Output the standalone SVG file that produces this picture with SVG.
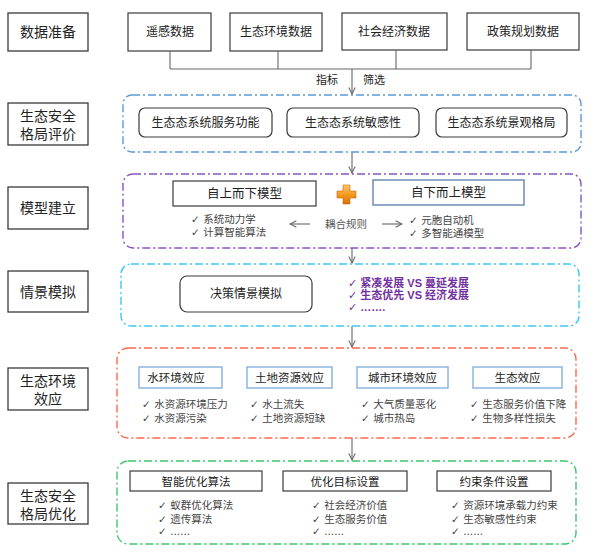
<svg xmlns="http://www.w3.org/2000/svg" width="594" height="556" viewBox="0 0 594 556">
<style>
.lbl{fill:#fff;stroke:#3a3a3a;stroke-width:1.3}
.lt{font-family:"Liberation Sans","Noto Sans CJK SC",sans-serif;font-size:14px;fill:#222;text-anchor:middle}
.bx{fill:#fff;stroke:#3a3a3a;stroke-width:1.2}
.bt{font-family:"Liberation Sans","Noto Sans CJK SC",sans-serif;font-size:12px;fill:#222;text-anchor:middle}
.hb{fill:#fff;stroke:#8db6e0;stroke-width:1.5}
.ck{font-family:"DejaVu Sans","Noto Sans CJK SC",sans-serif;font-size:10.5px;fill:#444}
.ctr{fill:none;stroke-width:1.4;stroke-dasharray:8 3 2 3}
.cn{fill:none;stroke:#666;stroke-width:1.1}
.pp{font-family:"Liberation Sans","Noto Sans CJK SC",sans-serif;font-size:11px;font-weight:bold;fill:#7030a0}
</style>
<defs>
<marker id="ah" viewBox="0 0 10 10" refX="9" refY="5" markerWidth="8" markerHeight="8" orient="auto" markerUnits="userSpaceOnUse">
<path d="M1,1 L9,5 L1,9" fill="none" stroke="#666" stroke-width="1.3"/>
</marker>
<linearGradient id="og" x1="0" y1="0" x2="0" y2="1">
<stop offset="0" stop-color="#ffc56a"/>
<stop offset="0.5" stop-color="#f59a1e"/>
<stop offset="1" stop-color="#d8700a"/>
</linearGradient>
</defs>
<rect width="594" height="556" fill="#fff"/>

<!-- left labels -->
<g id="label-1"><rect class="lbl" x="8" y="13" width="80" height="38"/><text class="lt" x="48" y="37">数据准备</text></g>
<g id="label-2"><rect class="lbl" x="8" y="103" width="80" height="42"/><text class="lt" x="48" y="121">生态安全</text><text class="lt" x="48" y="139">格局评价</text></g>
<g id="label-3"><rect class="lbl" x="8" y="187" width="80" height="42"/><text class="lt" x="48" y="213">模型建立</text></g>
<g id="label-4"><rect class="lbl" x="8" y="271" width="80" height="41"/><text class="lt" x="48" y="297">情景模拟</text></g>
<g id="label-5"><rect class="lbl" x="8" y="368" width="80" height="42"/><text class="lt" x="48" y="386">生态环境</text><text class="lt" x="48" y="404">效应</text></g>
<g id="label-6"><rect class="lbl" x="8" y="483" width="80" height="41"/><text class="lt" x="48" y="501">生态安全</text><text class="lt" x="48" y="519">格局优化</text></g>

<!-- data boxes -->
<g id="data-1"><rect class="bx" x="128" y="13" width="83" height="38"/><text class="bt" x="170" y="36">遥感数据</text></g>
<g id="data-2"><rect class="bx" x="230" y="13" width="92" height="38"/><text class="bt" x="276" y="36">生态环境数据</text></g>
<g id="data-3"><rect class="bx" x="342" y="13" width="105" height="37"/><text class="bt" x="394" y="36">社会经济数据</text></g>
<g id="data-4"><rect class="bx" x="467" y="13" width="112" height="37"/><text class="bt" x="523" y="36">政策规划数据</text></g>

<!-- connectors -->
<g id="connectors">
<path class="cn" d="M170,51 V69 M278,51 V69 M396,50 V69 M531,50 V69 M170,69 H531"/>
<path class="cn" d="M352,69 V94" marker-end="url(#ah)"/>
<path class="cn" d="M352,152 V173" marker-end="url(#ah)"/>
<path class="cn" d="M352,248 V263" marker-end="url(#ah)"/>
<path class="cn" d="M352,326 V347" marker-end="url(#ah)"/>
<path class="cn" d="M352,438 V460" marker-end="url(#ah)"/>
<path class="cn" d="M310,224 H290" marker-end="url(#ah)"/>
<path class="cn" d="M382,224 H402" marker-end="url(#ah)"/>
<text class="bt" x="327" y="84" style="font-size:11px">指标</text>
<text class="bt" x="374" y="84" style="font-size:11px">筛选</text>
<text class="bt" x="346" y="228" style="font-size:10.5px;fill:#555;font-family:'Noto Sans CJK SC',sans-serif">耦合规则</text>
</g>

<!-- row 2 -->
<g id="container-2">
<rect class="ctr" x="123" y="95" width="458" height="57" rx="9" stroke="#5b9bd5"/>
<g id="ev-1"><rect class="bx" x="139" y="108" width="133" height="29" rx="6"/><text class="bt" x="205.5" y="127">生态态系统服务功能</text></g>
<g id="ev-2"><rect class="bx" x="287" y="108" width="132" height="29" rx="6"/><text class="bt" x="353" y="127">生态态系统敏感性</text></g>
<g id="ev-3"><rect class="bx" x="436" y="108" width="131" height="29" rx="6"/><text class="bt" x="501.5" y="127">生态态系统景观格局</text></g>
</g>

<!-- row 3 -->
<g id="container-3">
<rect class="ctr" x="123" y="174" width="458" height="74" rx="10" stroke="#8b54c0"/>
<g id="top-down"><rect class="bx" x="173" y="181" width="143" height="25"/><text class="bt" x="244.5" y="198" style="font-size:12.5px">自上而下模型</text>
<text class="ck" x="191" y="223">✓ 系统动力学</text><text class="ck" x="191" y="236">✓ 计算智能算法</text></g>
<g id="plus"><path d="M343,185 h7 v6 h6 v7 h-6 v6 h-7 v-6 h-6 v-7 h6 z" fill="url(#og)" stroke="#c8650a" stroke-width="0.6"/></g>
<g id="bottom-up"><rect x="373" y="180" width="151" height="25" fill="#fff" stroke="#5a7aa8" stroke-width="1.3"/><text class="bt" x="448.5" y="197" style="font-size:12.5px">自下而上模型</text>
<text class="ck" x="409" y="224">✓ 元胞自动机</text><text class="ck" x="409" y="237">✓ 多智能通模型</text></g>
</g>

<!-- row 4 -->
<g id="container-4">
<rect class="ctr" x="121" y="264" width="458" height="62" rx="10" stroke="#3cc8f5"/>
<g id="scenario"><rect class="bx" x="180" y="276" width="132" height="36" rx="7"/><text class="bt" x="246" y="298">决策情景模拟</text></g>
<g id="scenario-list">
<text class="pp" x="348" y="287"><tspan style="font-weight:normal;font-family:'DejaVu Sans',sans-serif">✓</tspan> 紧凑发展 VS 蔓延发展</text>
<text class="pp" x="348" y="299"><tspan style="font-weight:normal;font-family:'DejaVu Sans',sans-serif">✓</tspan> 生态优先 VS 经济发展</text>
<text class="pp" x="348" y="311"><tspan style="font-weight:normal;font-family:'DejaVu Sans',sans-serif">✓</tspan> …….</text>
</g>
</g>

<!-- row 5 -->
<g id="container-5">
<rect class="ctr" x="117" y="348" width="459" height="90" rx="11" stroke="#ff6a4d"/>
<g id="eff-1"><rect class="hb" x="139" y="367" width="83" height="21"/><text class="bt" x="176" y="382" style="font-size:11.5px">水环境效应</text>
<text class="ck" x="142" y="408">✓ 水资源环境压力</text><text class="ck" x="142" y="422">✓ 水资源污染</text></g>
<g id="eff-2"><rect class="hb" x="247" y="367" width="85" height="21"/><text class="bt" x="289.5" y="382" style="font-size:11.5px">土地资源效应</text>
<text class="ck" x="250" y="408">✓ 水土流失</text><text class="ck" x="250" y="422">✓ 土地资源短缺</text></g>
<g id="eff-3"><rect class="hb" x="357" y="367" width="91" height="21"/><text class="bt" x="402.5" y="382" style="font-size:11.5px">城市环境效应</text>
<text class="ck" x="361" y="408">✓ 大气质量恶化</text><text class="ck" x="361" y="422">✓ 城市热岛</text></g>
<g id="eff-4"><rect class="hb" x="473" y="367" width="89" height="21"/><text class="bt" x="517.5" y="382" style="font-size:11.5px">生态效应</text>
<text class="ck" x="470" y="408">✓ 生态服务价值下降</text><text class="ck" x="470" y="422">✓ 生物多样性损失</text></g>
</g>

<!-- row 6 -->
<g id="container-6">
<rect class="ctr" x="117" y="461" width="459" height="83" rx="11" stroke="#3cc86a"/>
<g id="opt-1"><rect class="bx" x="130" y="471" width="132" height="20"/><text class="bt" x="196" y="486" style="font-size:11.5px">智能优化算法</text>
<text class="ck" x="158" y="509">✓ 蚁群优化算法</text><text class="ck" x="158" y="523">✓ 遗传算法</text><text class="ck" x="158" y="535">✓ ......</text></g>
<g id="opt-2"><rect class="bx" x="283" y="471" width="124" height="20"/><text class="bt" x="345" y="486" style="font-size:11.5px">优化目标设置</text>
<text class="ck" x="312" y="509">✓ 社会经济价值</text><text class="ck" x="312" y="523">✓ 生态服务价值</text><text class="ck" x="312" y="535">✓ ......</text></g>
<g id="opt-3"><rect class="bx" x="437" y="471" width="114" height="20"/><text class="bt" x="494" y="486" style="font-size:11.5px">约束条件设置</text>
<text class="ck" x="451" y="509">✓ 资源环境承载力约束</text><text class="ck" x="451" y="523">✓ 生态敏感性约束</text><text class="ck" x="451" y="535">✓ ......</text></g>
</g>
</svg>
